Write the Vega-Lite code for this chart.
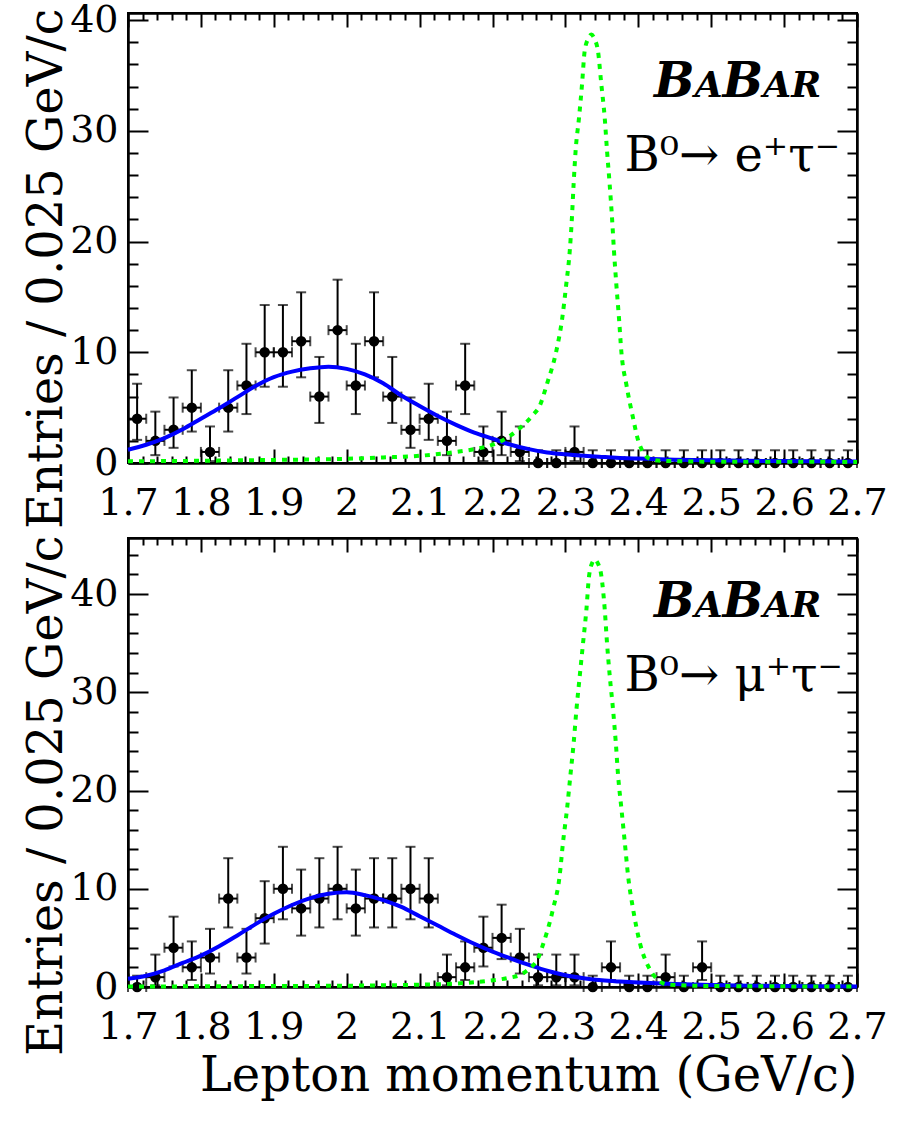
{
  "$schema": "https://vega.github.io/schema/vega-lite/v6.json",
  "background": "white",
  "padding": {"left": 21, "top": 0, "right": 5, "bottom": 5},
  "spacing": 75,
  "bounds": "flush",
  "datasets": {
    "eData": [
      {"x": 1.7125, "x0": 1.7, "x1": 1.725, "n": 4, "lo": 2.09, "hi": 7.16},
      {"x": 1.7375, "x0": 1.725, "x1": 1.75, "n": 2, "lo": 0.71, "hi": 4.64},
      {"x": 1.7625, "x0": 1.75, "x1": 1.775, "n": 3, "lo": 1.37, "hi": 5.92},
      {"x": 1.7875, "x0": 1.775, "x1": 1.8, "n": 5, "lo": 2.84, "hi": 8.38},
      {"x": 1.8125, "x0": 1.8, "x1": 1.825, "n": 1, "lo": 0.17, "hi": 3.3},
      {"x": 1.8375, "x0": 1.825, "x1": 1.85, "n": 5, "lo": 2.84, "hi": 8.38},
      {"x": 1.8625, "x0": 1.85, "x1": 1.875, "n": 7, "lo": 4.42, "hi": 10.77},
      {"x": 1.8875, "x0": 1.875, "x1": 1.9, "n": 10, "lo": 6.89, "hi": 14.27},
      {"x": 1.9125, "x0": 1.9, "x1": 1.925, "n": 10, "lo": 6.89, "hi": 14.27},
      {"x": 1.9375, "x0": 1.925, "x1": 1.95, "n": 11, "lo": 7.74, "hi": 15.42},
      {"x": 1.9625, "x0": 1.95, "x1": 1.975, "n": 6, "lo": 3.62, "hi": 9.58},
      {"x": 1.9875, "x0": 1.975, "x1": 2.0, "n": 12, "lo": 8.58, "hi": 16.56},
      {"x": 2.0125, "x0": 2.0, "x1": 2.025, "n": 7, "lo": 4.42, "hi": 10.77},
      {"x": 2.0375, "x0": 2.025, "x1": 2.05, "n": 11, "lo": 7.74, "hi": 15.42},
      {"x": 2.0625, "x0": 2.05, "x1": 2.075, "n": 6, "lo": 3.62, "hi": 9.58},
      {"x": 2.0875, "x0": 2.075, "x1": 2.1, "n": 3, "lo": 1.37, "hi": 5.92},
      {"x": 2.1125, "x0": 2.1, "x1": 2.125, "n": 4, "lo": 2.09, "hi": 7.16},
      {"x": 2.1375, "x0": 2.125, "x1": 2.15, "n": 2, "lo": 0.71, "hi": 4.64},
      {"x": 2.1625, "x0": 2.15, "x1": 2.175, "n": 7, "lo": 4.42, "hi": 10.77},
      {"x": 2.1875, "x0": 2.175, "x1": 2.2, "n": 1, "lo": 0.17, "hi": 3.3},
      {"x": 2.2125, "x0": 2.2, "x1": 2.225, "n": 2, "lo": 0.71, "hi": 4.64},
      {"x": 2.2375, "x0": 2.225, "x1": 2.25, "n": 1, "lo": 0.17, "hi": 3.3},
      {"x": 2.2625, "x0": 2.25, "x1": 2.275, "n": 0, "lo": 0, "hi": 1.15},
      {"x": 2.2875, "x0": 2.275, "x1": 2.3, "n": 0, "lo": 0, "hi": 1.15},
      {"x": 2.3125, "x0": 2.3, "x1": 2.325, "n": 1, "lo": 0.17, "hi": 3.3},
      {"x": 2.3375, "x0": 2.325, "x1": 2.35, "n": 0, "lo": 0, "hi": 1.15},
      {"x": 2.3625, "x0": 2.35, "x1": 2.375, "n": 0, "lo": 0, "hi": 1.15},
      {"x": 2.3875, "x0": 2.375, "x1": 2.4, "n": 0, "lo": 0, "hi": 1.15},
      {"x": 2.4125, "x0": 2.4, "x1": 2.425, "n": 0, "lo": 0, "hi": 1.15},
      {"x": 2.4375, "x0": 2.425, "x1": 2.45, "n": 0, "lo": 0, "hi": 1.15},
      {"x": 2.4625, "x0": 2.45, "x1": 2.475, "n": 0, "lo": 0, "hi": 1.15},
      {"x": 2.4875, "x0": 2.475, "x1": 2.5, "n": 0, "lo": 0, "hi": 1.15},
      {"x": 2.5125, "x0": 2.5, "x1": 2.525, "n": 0, "lo": 0, "hi": 1.15},
      {"x": 2.5375, "x0": 2.525, "x1": 2.55, "n": 0, "lo": 0, "hi": 1.15},
      {"x": 2.5625, "x0": 2.55, "x1": 2.575, "n": 0, "lo": 0, "hi": 1.15},
      {"x": 2.5875, "x0": 2.575, "x1": 2.6, "n": 0, "lo": 0, "hi": 1.15},
      {"x": 2.6125, "x0": 2.6, "x1": 2.625, "n": 0, "lo": 0, "hi": 1.15},
      {"x": 2.6375, "x0": 2.625, "x1": 2.65, "n": 0, "lo": 0, "hi": 1.15},
      {"x": 2.6625, "x0": 2.65, "x1": 2.675, "n": 0, "lo": 0, "hi": 1.15},
      {"x": 2.6875, "x0": 2.675, "x1": 2.7, "n": 0, "lo": 0, "hi": 1.15}
    ],
    "muData": [
      {"x": 1.7125, "x0": 1.7, "x1": 1.725, "n": 0, "lo": 0, "hi": 1.15},
      {"x": 1.7375, "x0": 1.725, "x1": 1.75, "n": 1, "lo": 0.17, "hi": 3.3},
      {"x": 1.7625, "x0": 1.75, "x1": 1.775, "n": 4, "lo": 2.09, "hi": 7.16},
      {"x": 1.7875, "x0": 1.775, "x1": 1.8, "n": 2, "lo": 0.71, "hi": 4.64},
      {"x": 1.8125, "x0": 1.8, "x1": 1.825, "n": 3, "lo": 1.37, "hi": 5.92},
      {"x": 1.8375, "x0": 1.825, "x1": 1.85, "n": 9, "lo": 6.06, "hi": 13.11},
      {"x": 1.8625, "x0": 1.85, "x1": 1.875, "n": 3, "lo": 1.37, "hi": 5.92},
      {"x": 1.8875, "x0": 1.875, "x1": 1.9, "n": 7, "lo": 4.42, "hi": 10.77},
      {"x": 1.9125, "x0": 1.9, "x1": 1.925, "n": 10, "lo": 6.89, "hi": 14.27},
      {"x": 1.9375, "x0": 1.925, "x1": 1.95, "n": 8, "lo": 5.23, "hi": 11.95},
      {"x": 1.9625, "x0": 1.95, "x1": 1.975, "n": 9, "lo": 6.06, "hi": 13.11},
      {"x": 1.9875, "x0": 1.975, "x1": 2.0, "n": 10, "lo": 6.89, "hi": 14.27},
      {"x": 2.0125, "x0": 2.0, "x1": 2.025, "n": 8, "lo": 5.23, "hi": 11.95},
      {"x": 2.0375, "x0": 2.025, "x1": 2.05, "n": 9, "lo": 6.06, "hi": 13.11},
      {"x": 2.0625, "x0": 2.05, "x1": 2.075, "n": 9, "lo": 6.06, "hi": 13.11},
      {"x": 2.0875, "x0": 2.075, "x1": 2.1, "n": 10, "lo": 6.89, "hi": 14.27},
      {"x": 2.1125, "x0": 2.1, "x1": 2.125, "n": 9, "lo": 6.06, "hi": 13.11},
      {"x": 2.1375, "x0": 2.125, "x1": 2.15, "n": 1, "lo": 0.17, "hi": 3.3},
      {"x": 2.1625, "x0": 2.15, "x1": 2.175, "n": 2, "lo": 0.71, "hi": 4.64},
      {"x": 2.1875, "x0": 2.175, "x1": 2.2, "n": 4, "lo": 2.09, "hi": 7.16},
      {"x": 2.2125, "x0": 2.2, "x1": 2.225, "n": 5, "lo": 2.84, "hi": 8.38},
      {"x": 2.2375, "x0": 2.225, "x1": 2.25, "n": 3, "lo": 1.37, "hi": 5.92},
      {"x": 2.2625, "x0": 2.25, "x1": 2.275, "n": 1, "lo": 0.17, "hi": 3.3},
      {"x": 2.2875, "x0": 2.275, "x1": 2.3, "n": 1, "lo": 0.17, "hi": 3.3},
      {"x": 2.3125, "x0": 2.3, "x1": 2.325, "n": 1, "lo": 0.17, "hi": 3.3},
      {"x": 2.3375, "x0": 2.325, "x1": 2.35, "n": 0, "lo": 0, "hi": 1.15},
      {"x": 2.3625, "x0": 2.35, "x1": 2.375, "n": 2, "lo": 0.71, "hi": 4.64},
      {"x": 2.3875, "x0": 2.375, "x1": 2.4, "n": 0, "lo": 0, "hi": 1.15},
      {"x": 2.4125, "x0": 2.4, "x1": 2.425, "n": 0, "lo": 0, "hi": 1.15},
      {"x": 2.4375, "x0": 2.425, "x1": 2.45, "n": 1, "lo": 0.17, "hi": 3.3},
      {"x": 2.4625, "x0": 2.45, "x1": 2.475, "n": 0, "lo": 0, "hi": 1.15},
      {"x": 2.4875, "x0": 2.475, "x1": 2.5, "n": 2, "lo": 0.71, "hi": 4.64},
      {"x": 2.5125, "x0": 2.5, "x1": 2.525, "n": 0, "lo": 0, "hi": 1.15},
      {"x": 2.5375, "x0": 2.525, "x1": 2.55, "n": 0, "lo": 0, "hi": 1.15},
      {"x": 2.5625, "x0": 2.55, "x1": 2.575, "n": 0, "lo": 0, "hi": 1.15},
      {"x": 2.5875, "x0": 2.575, "x1": 2.6, "n": 0, "lo": 0, "hi": 1.15},
      {"x": 2.6125, "x0": 2.6, "x1": 2.625, "n": 0, "lo": 0, "hi": 1.15},
      {"x": 2.6375, "x0": 2.625, "x1": 2.65, "n": 0, "lo": 0, "hi": 1.15},
      {"x": 2.6625, "x0": 2.65, "x1": 2.675, "n": 0, "lo": 0, "hi": 1.15},
      {"x": 2.6875, "x0": 2.675, "x1": 2.7, "n": 0, "lo": 0, "hi": 1.15}
    ],
    "eFit": [
      {"p": 1.7, "y": 1.2}, {"p": 1.725, "y": 1.65}, {"p": 1.75, "y": 2.25}, {"p": 1.775, "y": 3.05},
      {"p": 1.8, "y": 4.0}, {"p": 1.825, "y": 4.95}, {"p": 1.85, "y": 5.95}, {"p": 1.875, "y": 6.95},
      {"p": 1.9, "y": 7.75}, {"p": 1.925, "y": 8.25}, {"p": 1.95, "y": 8.55}, {"p": 1.975, "y": 8.7},
      {"p": 2.0, "y": 8.5}, {"p": 2.025, "y": 8.0}, {"p": 2.05, "y": 7.2}, {"p": 2.075, "y": 6.1},
      {"p": 2.1, "y": 5.15}, {"p": 2.125, "y": 4.25}, {"p": 2.15, "y": 3.45}, {"p": 2.175, "y": 2.75},
      {"p": 2.2, "y": 2.2}, {"p": 2.225, "y": 1.65}, {"p": 2.25, "y": 1.25}, {"p": 2.275, "y": 0.95},
      {"p": 2.3, "y": 0.78}, {"p": 2.325, "y": 0.65}, {"p": 2.35, "y": 0.55}, {"p": 2.375, "y": 0.46},
      {"p": 2.4, "y": 0.4}, {"p": 2.45, "y": 0.3}, {"p": 2.5, "y": 0.24}, {"p": 2.55, "y": 0.2},
      {"p": 2.6, "y": 0.17}, {"p": 2.65, "y": 0.15}, {"p": 2.7, "y": 0.13}
    ],
    "muFit": [
      {"p": 1.7, "y": 0.85}, {"p": 1.725, "y": 1.15}, {"p": 1.75, "y": 1.7}, {"p": 1.775, "y": 2.45},
      {"p": 1.8, "y": 3.2}, {"p": 1.825, "y": 4.15}, {"p": 1.85, "y": 5.25}, {"p": 1.875, "y": 6.4},
      {"p": 1.9, "y": 7.45}, {"p": 1.925, "y": 8.35}, {"p": 1.95, "y": 9.05}, {"p": 1.975, "y": 9.5},
      {"p": 2.0, "y": 9.65}, {"p": 2.025, "y": 9.35}, {"p": 2.05, "y": 8.85}, {"p": 2.075, "y": 8.15},
      {"p": 2.1, "y": 7.2}, {"p": 2.125, "y": 6.25}, {"p": 2.15, "y": 5.3}, {"p": 2.175, "y": 4.4},
      {"p": 2.2, "y": 3.6}, {"p": 2.225, "y": 2.9}, {"p": 2.25, "y": 2.25}, {"p": 2.275, "y": 1.65},
      {"p": 2.3, "y": 1.2}, {"p": 2.325, "y": 0.9}, {"p": 2.35, "y": 0.68}, {"p": 2.375, "y": 0.55},
      {"p": 2.4, "y": 0.45}, {"p": 2.45, "y": 0.3}, {"p": 2.5, "y": 0.2}, {"p": 2.55, "y": 0.14},
      {"p": 2.6, "y": 0.1}, {"p": 2.65, "y": 0.08}, {"p": 2.7, "y": 0.06}
    ],
    "eSig": [
      {"p": 1.7, "y": 0.15}, {"p": 1.8, "y": 0.2}, {"p": 1.9, "y": 0.28}, {"p": 2.0, "y": 0.38},
      {"p": 2.05, "y": 0.5}, {"p": 2.1, "y": 0.65}, {"p": 2.15, "y": 1.0}, {"p": 2.175, "y": 1.25},
      {"p": 2.2, "y": 1.65}, {"p": 2.225, "y": 2.5}, {"p": 2.24, "y": 3.3}, {"p": 2.255, "y": 4.3},
      {"p": 2.265, "y": 5.2}, {"p": 2.275, "y": 7.2}, {"p": 2.2875, "y": 10.1}, {"p": 2.2957, "y": 13.1},
      {"p": 2.3011, "y": 16.1}, {"p": 2.3059, "y": 19.1}, {"p": 2.3089, "y": 22.1}, {"p": 2.3112, "y": 25.1},
      {"p": 2.314, "y": 28.2}, {"p": 2.3187, "y": 31.2}, {"p": 2.3228, "y": 34.2}, {"p": 2.3264, "y": 37.2},
      {"p": 2.331, "y": 38.3}, {"p": 2.3356, "y": 38.7}, {"p": 2.34, "y": 38.3}, {"p": 2.3447, "y": 37.2},
      {"p": 2.3493, "y": 34.2}, {"p": 2.3539, "y": 31.2}, {"p": 2.3571, "y": 28.2}, {"p": 2.3608, "y": 25.1},
      {"p": 2.364, "y": 22.1}, {"p": 2.3667, "y": 19.1}, {"p": 2.3699, "y": 16.1}, {"p": 2.3735, "y": 13.1},
      {"p": 2.3767, "y": 10.1}, {"p": 2.3836, "y": 7.1}, {"p": 2.3927, "y": 4.1}, {"p": 2.4, "y": 2.0},
      {"p": 2.4064, "y": 1.0}, {"p": 2.415, "y": 0.4}, {"p": 2.43, "y": 0.2}, {"p": 2.5, "y": 0.12},
      {"p": 2.7, "y": 0.1}
    ],
    "muSig": [
      {"p": 1.7, "y": 0.05}, {"p": 1.8, "y": 0.07}, {"p": 1.9, "y": 0.1}, {"p": 2.0, "y": 0.13},
      {"p": 2.05, "y": 0.17}, {"p": 2.1, "y": 0.23}, {"p": 2.15, "y": 0.35}, {"p": 2.19, "y": 0.6},
      {"p": 2.22, "y": 0.9}, {"p": 2.24, "y": 1.3}, {"p": 2.2509, "y": 1.9}, {"p": 2.2623, "y": 2.9},
      {"p": 2.2692, "y": 4.3}, {"p": 2.2829, "y": 7.9}, {"p": 2.2921, "y": 11.3}, {"p": 2.2967, "y": 14.7},
      {"p": 2.3022, "y": 18.1}, {"p": 2.3068, "y": 21.5}, {"p": 2.3114, "y": 24.9}, {"p": 2.3151, "y": 28.2},
      {"p": 2.3196, "y": 31.6}, {"p": 2.3242, "y": 35.0}, {"p": 2.3288, "y": 38.4}, {"p": 2.3324, "y": 41.8},
      {"p": 2.337, "y": 43.2}, {"p": 2.3402, "y": 43.5}, {"p": 2.344, "y": 43.2}, {"p": 2.3494, "y": 41.8},
      {"p": 2.354, "y": 38.4}, {"p": 2.3571, "y": 35.0}, {"p": 2.3609, "y": 31.6}, {"p": 2.3654, "y": 28.2},
      {"p": 2.3691, "y": 24.9}, {"p": 2.3723, "y": 21.5}, {"p": 2.3769, "y": 18.1}, {"p": 2.3815, "y": 14.7},
      {"p": 2.386, "y": 11.3}, {"p": 2.3929, "y": 7.9}, {"p": 2.4021, "y": 4.5}, {"p": 2.4158, "y": 1.8},
      {"p": 2.4273, "y": 0.7}, {"p": 2.44, "y": 0.25}, {"p": 2.5, "y": 0.1}, {"p": 2.7, "y": 0.05}
    ]
  },
  "vconcat": [
    {
      "width": 729,
      "height": 450,
      "resolve": {"axis": {"x": "independent", "y": "independent"}},
      "layer": [
        {
          "data": {"name": "eData"},
          "mark": {"type": "rule", "color": "#000", "strokeWidth": 2},
          "encoding": {
            "x": {"field": "x0", "type": "quantitative", "scale": {"domain": [1.7, 2.7], "nice": false},
                  "axis": {"orient": "bottom", "values": [1.7, 1.8, 1.9, 2, 2.1, 2.2, 2.3, 2.4, 2.5, 2.6, 2.7], "tickSize": -14, "labelPadding": 35, "format": "~g", "labelFlush": false, "labelOverlap": false, "title": null}},
            "x2": {"field": "x1"},
            "y": {"field": "n", "type": "quantitative", "scale": {"domain": [0, 40.65], "nice": false},
                  "axis": {"orient": "left", "values": [0, 10, 20, 30, 40], "tickSize": -20, "labelPadding": 30, "labelFlush": false, "labelOverlap": false,
                           "title": "Entries / 0.025 GeV/c", "titleAngle": -90, "titleAlign": "right", "titleBaseline": "alphabetic", "titleX": -67, "titleY": -5}}
          }
        },
        {
          "data": {"name": "eData"},
          "mark": {"type": "rule", "color": "#000", "strokeWidth": 2},
          "encoding": {
            "x": {"field": "x", "type": "quantitative",
                  "axis": {"orient": "bottom", "values": [1.72,1.74,1.76,1.78,1.82,1.84,1.86,1.88,1.92,1.94,1.96,1.98,2.02,2.04,2.06,2.08,2.12,2.14,2.16,2.18,2.22,2.24,2.26,2.28,2.32,2.34,2.36,2.38,2.42,2.44,2.46,2.48,2.52,2.54,2.56,2.58,2.62,2.64,2.66,2.68], "tickSize": -7, "labels": false, "title": null}},
            "y": {"field": "lo", "type": "quantitative",
                  "axis": {"orient": "left", "values": [2,4,6,8,12,14,16,18,22,24,26,28,32,34,36,38], "tickSize": -10, "labels": false, "title": null}},
            "y2": {"field": "hi"}
          }
        },
        {
          "data": {"name": "eData"},
          "mark": {"type": "tick", "orient": "horizontal", "size": 10, "thickness": 2, "color": "#000"},
          "encoding": {
            "x": {"field": "x", "type": "quantitative",
                  "axis": {"orient": "top", "values": [1.7, 1.8, 1.9, 2, 2.1, 2.2, 2.3, 2.4, 2.5, 2.6, 2.7], "tickSize": -14, "labels": false, "title": null}},
            "y": {"field": "lo", "type": "quantitative",
                  "axis": {"orient": "right", "values": [0, 10, 20, 30, 40], "tickSize": -20, "labels": false, "title": null}}
          }
        },
        {
          "data": {"name": "eData"},
          "mark": {"type": "tick", "orient": "horizontal", "size": 10, "thickness": 2, "color": "#000"},
          "encoding": {
            "x": {"field": "x", "type": "quantitative",
                  "axis": {"orient": "top", "values": [1.72,1.74,1.76,1.78,1.82,1.84,1.86,1.88,1.92,1.94,1.96,1.98,2.02,2.04,2.06,2.08,2.12,2.14,2.16,2.18,2.22,2.24,2.26,2.28,2.32,2.34,2.36,2.38,2.42,2.44,2.46,2.48,2.52,2.54,2.56,2.58,2.62,2.64,2.66,2.68], "tickSize": -7, "labels": false, "title": null}},
            "y": {"field": "hi", "type": "quantitative",
                  "axis": {"orient": "right", "values": [2,4,6,8,12,14,16,18,22,24,26,28,32,34,36,38], "tickSize": -10, "labels": false, "title": null}}
          }
        },
        {
          "data": {"name": "eData"},
          "mark": {"type": "tick", "orient": "vertical", "size": 10, "thickness": 2, "color": "#000"},
          "encoding": {
            "x": {"field": "x0", "type": "quantitative", "axis": null},
            "y": {"field": "n", "type": "quantitative", "axis": null}
          }
        },
        {
          "data": {"name": "eData"},
          "mark": {"type": "tick", "orient": "vertical", "size": 10, "thickness": 2, "color": "#000"},
          "encoding": {
            "x": {"field": "x1", "type": "quantitative", "axis": null},
            "y": {"field": "n", "type": "quantitative", "axis": null}
          }
        },
        {
          "data": {"name": "eData"},
          "mark": {"type": "circle", "size": 110, "color": "#000", "opacity": 1},
          "encoding": {
            "x": {"field": "x", "type": "quantitative", "axis": null},
            "y": {"field": "n", "type": "quantitative", "axis": null}
          }
        },
        {
          "data": {"name": "eFit"},
          "mark": {"type": "line", "color": "#0000ff", "strokeWidth": 4, "interpolate": "monotone"},
          "encoding": {
            "x": {"field": "p", "type": "quantitative", "axis": null},
            "y": {"field": "y", "type": "quantitative", "axis": null}
          }
        },
        {
          "data": {"name": "eSig"},
          "mark": {"type": "line", "color": "#00ff00", "strokeWidth": 4, "strokeDash": [5, 6], "interpolate": "monotone"},
          "encoding": {
            "x": {"field": "p", "type": "quantitative", "axis": null},
            "y": {"field": "y", "type": "quantitative", "axis": null}
          }
        },
        {
          "data": {"values": [{"t": "B"}]},
          "mark": {"type": "text", "font": "DejaVu Serif", "fontSize": 48, "fontWeight": "bold", "fontStyle": "italic", "align": "left", "baseline": "alphabetic", "color": "#000"},
          "encoding": {
            "x": {"datum": 2.4215, "type": "quantitative", "axis": null},
            "y": {"datum": 33.06, "type": "quantitative", "axis": null},
            "text": {"field": "t"}
          }
        },
        {
          "data": {"values": [{"t": "A"}]},
          "mark": {"type": "text", "font": "DejaVu Serif", "fontSize": 36, "fontWeight": "bold", "fontStyle": "italic", "align": "left", "baseline": "alphabetic", "color": "#000"},
          "encoding": {
            "x": {"datum": 2.4775, "type": "quantitative", "axis": null},
            "y": {"datum": 33.06, "type": "quantitative", "axis": null},
            "text": {"field": "t"}
          }
        },
        {
          "data": {"values": [{"t": "B"}]},
          "mark": {"type": "text", "font": "DejaVu Serif", "fontSize": 48, "fontWeight": "bold", "fontStyle": "italic", "align": "left", "baseline": "alphabetic", "color": "#000"},
          "encoding": {
            "x": {"datum": 2.5155, "type": "quantitative", "axis": null},
            "y": {"datum": 33.06, "type": "quantitative", "axis": null},
            "text": {"field": "t"}
          }
        },
        {
          "data": {"values": [{"t": "AR"}]},
          "mark": {"type": "text", "font": "DejaVu Serif", "fontSize": 36, "fontWeight": "bold", "fontStyle": "italic", "align": "left", "baseline": "alphabetic", "color": "#000"},
          "encoding": {
            "x": {"datum": 2.5715, "type": "quantitative", "axis": null},
            "y": {"datum": 33.06, "type": "quantitative", "axis": null},
            "text": {"field": "t"}
          }
        },
        {
          "data": {"values": [{"t": "B⁰→ e⁺τ⁻"}]},
          "mark": {"type": "text", "font": "DejaVu Serif", "fontSize": 48, "align": "left", "baseline": "alphabetic", "color": "#000"},
          "encoding": {
            "x": {"datum": 2.381, "type": "quantitative", "axis": null},
            "y": {"datum": 26.35, "type": "quantitative", "axis": null},
            "text": {"field": "t"}
          }
        }
      ]
    },
    {
      "width": 729,
      "height": 449,
      "resolve": {"axis": {"x": "independent", "y": "independent"}},
      "layer": [
        {
          "data": {"name": "muData"},
          "mark": {"type": "rule", "color": "#000", "strokeWidth": 2},
          "encoding": {
            "x": {"field": "x0", "type": "quantitative", "scale": {"domain": [1.7, 2.7], "nice": false},
                  "axis": {"orient": "bottom", "values": [1.7, 1.8, 1.9, 2, 2.1, 2.2, 2.3, 2.4, 2.5, 2.6, 2.7], "tickSize": -14, "labelPadding": 35, "format": "~g", "labelFlush": false, "labelOverlap": false,
                           "title": "Lepton momentum (GeV/c)", "titleAlign": "right", "titleBaseline": "alphabetic", "titleX": 729, "titleY": 103}},
            "x2": {"field": "x1"},
            "y": {"field": "n", "type": "quantitative", "scale": {"domain": [0, 45.7], "nice": false},
                  "axis": {"orient": "left", "values": [0, 10, 20, 30, 40], "tickSize": -20, "labelPadding": 30, "labelFlush": false, "labelOverlap": false,
                           "title": "Entries / 0.025 GeV/c", "titleAngle": -90, "titleAlign": "right", "titleBaseline": "alphabetic", "titleX": -67, "titleY": -3}}
          }
        },
        {
          "data": {"name": "muData"},
          "mark": {"type": "rule", "color": "#000", "strokeWidth": 2},
          "encoding": {
            "x": {"field": "x", "type": "quantitative",
                  "axis": {"orient": "bottom", "values": [1.72,1.74,1.76,1.78,1.82,1.84,1.86,1.88,1.92,1.94,1.96,1.98,2.02,2.04,2.06,2.08,2.12,2.14,2.16,2.18,2.22,2.24,2.26,2.28,2.32,2.34,2.36,2.38,2.42,2.44,2.46,2.48,2.52,2.54,2.56,2.58,2.62,2.64,2.66,2.68], "tickSize": -7, "labels": false, "title": null}},
            "y": {"field": "lo", "type": "quantitative",
                  "axis": {"orient": "left", "values": [2,4,6,8,12,14,16,18,22,24,26,28,32,34,36,38,42,44], "tickSize": -10, "labels": false, "title": null}},
            "y2": {"field": "hi"}
          }
        },
        {
          "data": {"name": "muData"},
          "mark": {"type": "tick", "orient": "horizontal", "size": 10, "thickness": 2, "color": "#000"},
          "encoding": {
            "x": {"field": "x", "type": "quantitative",
                  "axis": {"orient": "top", "values": [1.7, 1.8, 1.9, 2, 2.1, 2.2, 2.3, 2.4, 2.5, 2.6, 2.7], "tickSize": -14, "labels": false, "title": null}},
            "y": {"field": "lo", "type": "quantitative",
                  "axis": {"orient": "right", "values": [0, 10, 20, 30, 40], "tickSize": -20, "labels": false, "title": null}}
          }
        },
        {
          "data": {"name": "muData"},
          "mark": {"type": "tick", "orient": "horizontal", "size": 10, "thickness": 2, "color": "#000"},
          "encoding": {
            "x": {"field": "x", "type": "quantitative",
                  "axis": {"orient": "top", "values": [1.72,1.74,1.76,1.78,1.82,1.84,1.86,1.88,1.92,1.94,1.96,1.98,2.02,2.04,2.06,2.08,2.12,2.14,2.16,2.18,2.22,2.24,2.26,2.28,2.32,2.34,2.36,2.38,2.42,2.44,2.46,2.48,2.52,2.54,2.56,2.58,2.62,2.64,2.66,2.68], "tickSize": -7, "labels": false, "title": null}},
            "y": {"field": "hi", "type": "quantitative",
                  "axis": {"orient": "right", "values": [2,4,6,8,12,14,16,18,22,24,26,28,32,34,36,38,42,44], "tickSize": -10, "labels": false, "title": null}}
          }
        },
        {
          "data": {"name": "muData"},
          "mark": {"type": "tick", "orient": "vertical", "size": 10, "thickness": 2, "color": "#000"},
          "encoding": {
            "x": {"field": "x0", "type": "quantitative", "axis": null},
            "y": {"field": "n", "type": "quantitative", "axis": null}
          }
        },
        {
          "data": {"name": "muData"},
          "mark": {"type": "tick", "orient": "vertical", "size": 10, "thickness": 2, "color": "#000"},
          "encoding": {
            "x": {"field": "x1", "type": "quantitative", "axis": null},
            "y": {"field": "n", "type": "quantitative", "axis": null}
          }
        },
        {
          "data": {"name": "muData"},
          "mark": {"type": "circle", "size": 110, "color": "#000", "opacity": 1},
          "encoding": {
            "x": {"field": "x", "type": "quantitative", "axis": null},
            "y": {"field": "n", "type": "quantitative", "axis": null}
          }
        },
        {
          "data": {"name": "muFit"},
          "mark": {"type": "line", "color": "#0000ff", "strokeWidth": 4, "interpolate": "monotone"},
          "encoding": {
            "x": {"field": "p", "type": "quantitative", "axis": null},
            "y": {"field": "y", "type": "quantitative", "axis": null}
          }
        },
        {
          "data": {"name": "muSig"},
          "mark": {"type": "line", "color": "#00ff00", "strokeWidth": 4, "strokeDash": [5, 6], "interpolate": "monotone"},
          "encoding": {
            "x": {"field": "p", "type": "quantitative", "axis": null},
            "y": {"field": "y", "type": "quantitative", "axis": null}
          }
        },
        {
          "data": {"values": [{"t": "B"}]},
          "mark": {"type": "text", "font": "DejaVu Serif", "fontSize": 48, "fontWeight": "bold", "fontStyle": "italic", "align": "left", "baseline": "alphabetic", "color": "#000"},
          "encoding": {
            "x": {"datum": 2.4215, "type": "quantitative", "axis": null},
            "y": {"datum": 37.7, "type": "quantitative", "axis": null},
            "text": {"field": "t"}
          }
        },
        {
          "data": {"values": [{"t": "A"}]},
          "mark": {"type": "text", "font": "DejaVu Serif", "fontSize": 36, "fontWeight": "bold", "fontStyle": "italic", "align": "left", "baseline": "alphabetic", "color": "#000"},
          "encoding": {
            "x": {"datum": 2.4775, "type": "quantitative", "axis": null},
            "y": {"datum": 37.7, "type": "quantitative", "axis": null},
            "text": {"field": "t"}
          }
        },
        {
          "data": {"values": [{"t": "B"}]},
          "mark": {"type": "text", "font": "DejaVu Serif", "fontSize": 48, "fontWeight": "bold", "fontStyle": "italic", "align": "left", "baseline": "alphabetic", "color": "#000"},
          "encoding": {
            "x": {"datum": 2.5155, "type": "quantitative", "axis": null},
            "y": {"datum": 37.7, "type": "quantitative", "axis": null},
            "text": {"field": "t"}
          }
        },
        {
          "data": {"values": [{"t": "AR"}]},
          "mark": {"type": "text", "font": "DejaVu Serif", "fontSize": 36, "fontWeight": "bold", "fontStyle": "italic", "align": "left", "baseline": "alphabetic", "color": "#000"},
          "encoding": {
            "x": {"datum": 2.5715, "type": "quantitative", "axis": null},
            "y": {"datum": 37.7, "type": "quantitative", "axis": null},
            "text": {"field": "t"}
          }
        },
        {
          "data": {"values": [{"t": "B⁰→ μ⁺τ⁻"}]},
          "mark": {"type": "text", "font": "DejaVu Serif", "fontSize": 48, "align": "left", "baseline": "alphabetic", "color": "#000"},
          "encoding": {
            "x": {"datum": 2.381, "type": "quantitative", "axis": null},
            "y": {"datum": 30.1, "type": "quantitative", "axis": null},
            "text": {"field": "t"}
          }
        }
      ]
    }
  ],
  "config": {
    "view": {"stroke": "#000", "strokeWidth": 2},
    "axis": {
      "grid": false,
      "domainColor": "#000",
      "domainWidth": 2,
      "tickColor": "#000",
      "tickWidth": 2,
      "labelFont": "DejaVu Serif",
      "labelFontSize": 38,
      "labelColor": "#000",
      "titleFont": "DejaVu Serif",
      "titleFontSize": 48,
      "titleFontWeight": "normal",
      "titleColor": "#000"
    }
  }
}
